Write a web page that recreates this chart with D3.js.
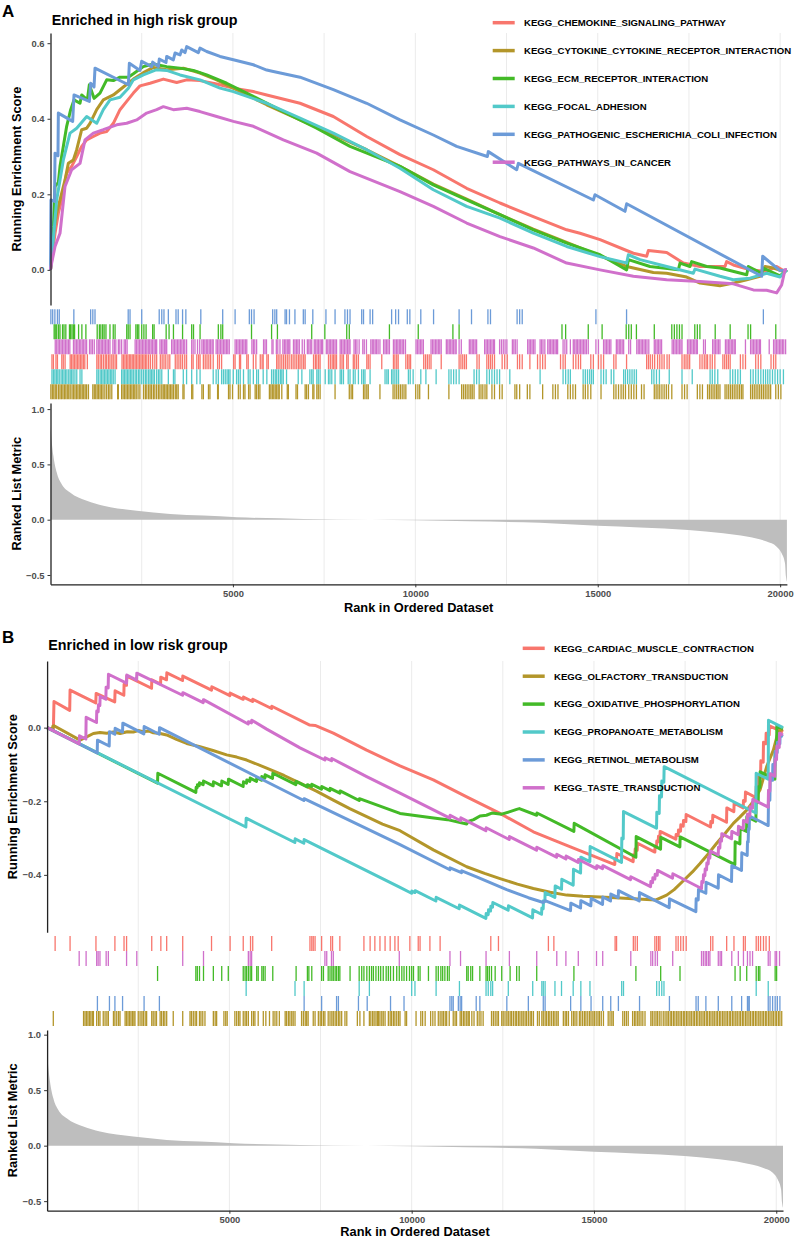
<!DOCTYPE html>
<html><head><meta charset="utf-8">
<script src="https://cdn.jsdelivr.net/npm/d3@7"></script>
<style>
body{margin:0;background:#fff}
svg{display:block}
text{font-family:"Liberation Sans",Arial,Helvetica,sans-serif}
</style>
</head><body>
<svg id="c" width="794" height="1240"></svg>
<script>
// ---------------- DATA ----------------
const N = 20185;
const gridRanks = [2500,5000,7500,10000,12500,15000,17500,20000];
const xTickValues = [5000,10000,15000,20000];
const esTicksA = [0.0,0.2,0.4,0.6];
const esTicksB = [-0.4,-0.2,0.0];
const metricTicks = [-0.5,0.0,0.5,1.0];

const titleA = "Enriched in high risk group";
const titleB = "Enriched in low risk group";

const setsA = ["KEGG_CHEMOKINE_SIGNALING_PATHWAY","KEGG_CYTOKINE_CYTOKINE_RECEPTOR_INTERACTION","KEGG_ECM_RECEPTOR_INTERACTION","KEGG_FOCAL_ADHESION","KEGG_PATHOGENIC_ESCHERICHIA_COLI_INFECTION","KEGG_PATHWAYS_IN_CANCER"];
const setsB = ["KEGG_CARDIAC_MUSCLE_CONTRACTION","KEGG_OLFACTORY_TRANSDUCTION","KEGG_OXIDATIVE_PHOSPHORYLATION","KEGG_PROPANOATE_METABOLISM","KEGG_RETINOL_METABOLISM","KEGG_TASTE_TRANSDUCTION"];
const setColors = ["#F8766D","#B3962A","#43BA27","#52C9C9","#6C9BD8","#D070CB"];
const rugOrderA = [4,2,5,0,3,1];
const rugOrderB = [0,5,2,3,4,1];

// ranked list metric (shared)
const metricRanks  = [0,15,80,171,308,537,994,1451,2365,3280,4194,5108,6937,8765,10000,11500,13417,15000,16158,17483,18442,19082,19630,19904,20041,20133,20160,20185];
const metricValues = [0.85,0.78,0.576,0.426,0.321,0.247,0.172,0.127,0.082,0.052,0.037,0.022,0.007,0.0,-0.005,-0.015,-0.027,-0.055,-0.07,-0.093,-0.123,-0.153,-0.198,-0.244,-0.304,-0.394,-0.515,-0.56];

// running enrichment scores, panel A  [rank, ES]
const esChemokine = [[0,0],[124,0.097],[215,0.150],[306,0.185],[443,0.256],[580,0.274],[718,0.300],[855,0.327],[992,0.344],[1174,0.353],[1357,0.362],[1540,0.366],[1723,0.388],[1905,0.424],[2088,0.446],[2271,0.468],[2453,0.487],[2728,0.494],[3093,0.505],[3459,0.496],[3733,0.503],[4098,0.501],[4555,0.492],[5012,0.481],[5560,0.472],[5926,0.463],[6839,0.441],[7753,0.406],[8667,0.353],[9580,0.305],[10493,0.265],[11407,0.216],[12321,0.177],[13234,0.141],[14148,0.106],[14514,0.097],[15062,0.080],[15976,0.044],[16341,0.036],[16387,0.051],[16890,0.046],[17346,0.018],[17803,0.009],[18488,0.009],[18534,0.022],[18717,0.013],[19174,0.0],[19630,-0.004],[19904,0.009],[20087,-0.002],[20185,0]];
const esCytokine = [[0,0],[78,0.097],[169,0.150],[261,0.185],[398,0.238],[489,0.282],[626,0.291],[718,0.318],[855,0.371],[992,0.375],[1083,0.388],[1266,0.424],[1448,0.450],[1723,0.463],[1997,0.484],[2271,0.505],[2545,0.522],[2819,0.536],[3185,0.530],[3641,0.534],[4098,0.521],[4555,0.503],[5012,0.481],[5926,0.437],[6839,0.397],[7753,0.358],[8667,0.318],[9580,0.274],[10493,0.227],[11407,0.187],[12321,0.146],[13234,0.108],[14148,0.073],[15062,0.037],[15793,0.009],[15976,0.005],[16524,-0.007],[16889,-0.009],[17437,-0.019],[17803,-0.035],[18351,-0.042],[18717,-0.035],[19083,-0.026],[19448,-0.017],[19585,0.009],[19813,0.005],[20087,-0.004],[20185,0]];
const esEcm = [[0,0],[78,0.115],[124,0.221],[215,0.231],[261,0.274],[352,0.327],[443,0.380],[553,0.424],[644,0.450],[809,0.441],[855,0.463],[1010,0.450],[1065,0.490],[1193,0.454],[1357,0.468],[1540,0.503],[1723,0.501],[1905,0.510],[2134,0.510],[2271,0.519],[2545,0.538],[2819,0.545],[3185,0.538],[3550,0.534],[3916,0.528],[4281,0.516],[4829,0.494],[5560,0.459],[6382,0.419],[7296,0.375],[8210,0.327],[9580,0.274],[10493,0.225],[11407,0.185],[12321,0.146],[13234,0.106],[14148,0.071],[15062,0.040],[15793,0.0],[15839,0.027],[16433,0.009],[17209,0.0],[17255,0.018],[17529,0.009],[17575,0.022],[17986,0.009],[18351,0.005],[19083,-0.013],[19128,0.009],[19494,-0.009],[19521,0.005],[19996,-0.016],[20185,0]];
const esFocal = [[0,0],[78,0.080],[169,0.185],[352,0.291],[535,0.362],[718,0.375],[992,0.406],[1266,0.388],[1448,0.424],[1631,0.450],[1905,0.457],[2134,0.481],[2271,0.503],[2545,0.516],[2910,0.530],[3185,0.528],[3550,0.516],[4098,0.503],[4646,0.481],[5012,0.472],[5926,0.441],[6839,0.402],[7753,0.362],[8667,0.318],[9580,0.269],[10493,0.212],[11407,0.168],[12321,0.137],[13234,0.097],[14148,0.062],[15062,0.035],[15793,0.018],[15839,0.040],[16159,0.027],[16890,0.009],[17620,-0.009],[17666,0.002],[18351,-0.017],[18717,-0.026],[19174,-0.022],[19630,-0.009],[19996,-0.019],[20185,0]];
const esEcoli = [[0,0],[12,0.185],[110,0.181],[124,0.309],[205,0.302],[215,0.415],[608,0.393],[644,0.463],[1065,0.446],[1101,0.494],[1193,0.484],[1220,0.534],[2134,0.490],[2161,0.547],[2453,0.528],[2499,0.552],[2773,0.538],[2801,0.550],[2956,0.538],[2983,0.558],[3166,0.549],[3185,0.565],[3367,0.556],[3413,0.574],[3550,0.569],[3596,0.582],[3687,0.575],[3733,0.591],[4052,0.575],[4098,0.587],[4281,0.578],[4646,0.565],[5012,0.556],[5560,0.543],[5926,0.529],[6108,0.525],[6839,0.510],[7753,0.477],[8667,0.441],[9580,0.397],[10493,0.357],[11133,0.327],[11974,0.300],[12001,0.313],[12778,0.265],[12824,0.282],[14880,0.185],[14925,0.199],[15747,0.155],[15793,0.175],[19494,-0.017],[19521,0.036],[19996,-0.002],[20185,0]];
const esCancer = [[0,0],[32,0.018],[124,0.062],[261,0.097],[398,0.221],[580,0.265],[809,0.282],[946,0.344],[1174,0.362],[1448,0.371],[1814,0.384],[2088,0.388],[2362,0.397],[2636,0.415],[2910,0.424],[3093,0.432],[3367,0.424],[3733,0.428],[4098,0.419],[4555,0.406],[5012,0.393],[5560,0.380],[6382,0.344],[7296,0.309],[8210,0.260],[9580,0.207],[10493,0.168],[11407,0.124],[12321,0.088],[13234,0.058],[14148,0.018],[15062,0.0],[15976,-0.017],[16890,-0.026],[17803,-0.031],[18717,-0.037],[19265,-0.053],[19630,-0.054],[19904,-0.061],[20041,-0.040],[20132,0.0],[20185,0]];

// running enrichment scores, panel B  [rank, ES]
const esCardiac = [[0,0],[171,-0.008],[189,0.071],[620,0.047],[630,0.102],[1335,0.067],[1345,0.093],[1855,0.070],[1865,0.100],[2105,0.088],[2112,0.118],[2178,0.115],[2186,0.140],[2865,0.107],[2872,0.130],[3112,0.118],[3118,0.137],[3276,0.130],[3284,0.149],[3715,0.128],[3722,0.140],[4510,0.102],[4518,0.111],[5013,0.087],[5020,0.094],[5378,0.077],[5386,0.083],[5634,0.071],[5642,0.077],[6156,0.052],[6164,0.058],[7205,0.007],[7350,0.006],[7851,-0.015],[8765,-0.061],[9680,-0.104],[10594,-0.142],[11509,-0.188],[12423,-0.233],[13337,-0.283],[14252,-0.320],[15570,-0.372],[15578,-0.356],[15620,-0.358],[15628,-0.342],[16075,-0.364],[16082,-0.345],[16122,-0.347],[16130,-0.330],[16186,-0.333],[16194,-0.314],[16670,-0.338],[16678,-0.322],[16716,-0.324],[16724,-0.308],[16762,-0.310],[16770,-0.295],[16808,-0.297],[16816,-0.282],[17246,-0.303],[17254,-0.290],[17310,-0.293],[17318,-0.278],[17374,-0.281],[17382,-0.264],[17448,-0.268],[17456,-0.252],[17521,-0.255],[17529,-0.236],[18197,-0.270],[18205,-0.255],[18252,-0.258],[18260,-0.238],[18636,-0.257],[18644,-0.218],[18837,-0.228],[18845,-0.205],[19093,-0.218],[19101,-0.198],[19148,-0.200],[19156,-0.175],[19441,-0.190],[19449,-0.160],[19505,-0.163],[19513,-0.133],[19569,-0.136],[19577,-0.090],[19642,-0.094],[19650,-0.040],[19715,-0.044],[19723,-0.015],[19806,-0.020],[19814,0.005],[20185,-0.012]];
const esOlfactory = [[0,0],[150,-0.004],[158,0.004],[190,0.005],[902,-0.034],[1085,-0.025],[1268,-0.016],[1450,-0.013],[1634,-0.015],[1817,-0.012],[2000,-0.016],[2200,-0.011],[2365,-0.012],[2500,-0.008],[2640,-0.011],[2780,-0.009],[2914,-0.014],[3100,-0.016],[3280,-0.020],[3550,-0.032],[3829,-0.043],[4194,-0.052],[4550,-0.062],[4925,-0.074],[5200,-0.080],[5474,-0.088],[6022,-0.110],[6500,-0.130],[6937,-0.151],[7400,-0.173],[7851,-0.197],[8300,-0.220],[8765,-0.242],[9200,-0.262],[9680,-0.280],[10594,-0.332],[11509,-0.378],[12000,-0.396],[12423,-0.410],[12900,-0.425],[13337,-0.437],[13800,-0.447],[14252,-0.455],[14700,-0.458],[15166,-0.460],[15600,-0.462],[16080,-0.465],[16700,-0.468],[16994,-0.455],[17200,-0.440],[17451,-0.416],[17700,-0.392],[17909,-0.369],[18150,-0.341],[18366,-0.314],[18600,-0.287],[18823,-0.260],[19000,-0.243],[19189,-0.224],[19400,-0.196],[19555,-0.169],[19737,-0.106],[19920,-0.061],[20057,-0.010],[20185,-0.004]];
const esOxidative = [[0,0],[3029,-0.151],[3037,-0.124],[4080,-0.176],[4088,-0.162],[4116,-0.163],[4124,-0.155],[4171,-0.158],[4179,-0.150],[4281,-0.155],[4289,-0.145],[4555,-0.158],[4563,-0.147],[4784,-0.158],[4792,-0.145],[4967,-0.154],[4975,-0.140],[5378,-0.160],[5386,-0.147],[5470,-0.151],[5478,-0.142],[5561,-0.146],[5569,-0.137],[5744,-0.146],[5752,-0.136],[5881,-0.143],[5889,-0.133],[5973,-0.137],[5981,-0.128],[6183,-0.138],[6191,-0.124],[6823,-0.155],[6831,-0.146],[7134,-0.161],[7142,-0.155],[7253,-0.160],[7261,-0.154],[7527,-0.167],[7535,-0.160],[7756,-0.171],[7764,-0.165],[8030,-0.178],[8038,-0.172],[8560,-0.198],[8568,-0.193],[9680,-0.233],[10550,-0.245],[10980,-0.250],[11509,-0.262],[11550,-0.255],[11700,-0.250],[11874,-0.240],[12050,-0.238],[12200,-0.232],[12469,-0.235],[12697,-0.228],[12880,-0.222],[12953,-0.220],[13429,-0.238],[13437,-0.232],[14449,-0.282],[14457,-0.260],[16150,-0.352],[16158,-0.296],[16826,-0.330],[16834,-0.298],[17356,-0.324],[17364,-0.297],[18865,-0.372],[18873,-0.310],[19002,-0.316],[19010,-0.274],[19185,-0.282],[19193,-0.242],[19441,-0.254],[19449,-0.200],[19505,-0.203],[19513,-0.160],[19550,-0.162],[19558,-0.120],[19962,-0.140],[19970,-0.070],[20008,-0.072],[20016,0.005],[20185,-0.003]];
const esPropanoate = [[0,0],[5452,-0.270],[5460,-0.246],[6796,-0.312],[6804,-0.302],[7042,-0.314],[7050,-0.304],[9680,-0.434],[9996,-0.450],[10004,-0.444],[10087,-0.448],[10095,-0.443],[10663,-0.471],[10671,-0.461],[11303,-0.492],[11311,-0.482],[12035,-0.518],[12043,-0.505],[12099,-0.508],[12107,-0.495],[12163,-0.498],[12171,-0.485],[12218,-0.488],[12226,-0.475],[12647,-0.496],[12655,-0.484],[13315,-0.517],[13323,-0.495],[13562,-0.507],[13570,-0.490],[13607,-0.492],[13615,-0.470],[13653,-0.472],[13661,-0.448],[13928,-0.461],[13936,-0.430],[14110,-0.439],[14118,-0.412],[14430,-0.428],[14438,-0.385],[14632,-0.395],[14640,-0.352],[14887,-0.364],[14895,-0.323],[15756,-0.366],[15764,-0.300],[15802,-0.302],[15810,-0.228],[16716,-0.273],[16724,-0.230],[16789,-0.233],[16797,-0.185],[16853,-0.188],[16861,-0.145],[16917,-0.148],[16925,-0.106],[19441,-0.232],[19449,-0.124],[19779,-0.140],[19787,0.020],[20185,0.0]];
const esRetinol = [[0,0],[1374,-0.069],[1382,-0.034],[1703,-0.050],[1711,-0.011],[1858,-0.018],[1866,-0.002],[2069,-0.012],[2077,0.012],[2654,-0.017],[2662,0.003],[3075,-0.018],[3083,0.000],[7042,-0.198],[7050,-0.193],[9680,-0.318],[11047,-0.386],[11055,-0.381],[11367,-0.394],[11375,-0.389],[11765,-0.405],[12606,-0.440],[13200,-0.462],[13611,-0.475],[13657,-0.470],[14357,-0.497],[14365,-0.477],[14632,-0.490],[14640,-0.470],[14915,-0.484],[14923,-0.464],[15235,-0.480],[15243,-0.460],[15454,-0.471],[15462,-0.452],[15665,-0.462],[15673,-0.443],[16241,-0.471],[16249,-0.448],[17064,-0.489],[17072,-0.465],[17795,-0.500],[17803,-0.465],[17859,-0.468],[17867,-0.440],[18069,-0.450],[18077,-0.420],[18408,-0.436],[18416,-0.400],[18773,-0.418],[18781,-0.375],[19047,-0.388],[19055,-0.340],[19203,-0.347],[19211,-0.310],[19230,-0.311],[19238,-0.275],[19258,-0.276],[19266,-0.240],[19779,-0.266],[19787,-0.195],[19825,-0.197],[19833,-0.140],[19898,-0.143],[19906,-0.100],[19962,-0.103],[19970,-0.065],[20026,-0.068],[20034,-0.040],[20099,-0.044],[20107,-0.020],[20185,-0.024]];
const esTaste = [[0,0],[880,-0.044],[888,-0.022],[1063,-0.031],[1071,0.028],[1355,0.014],[1362,0.045],[1401,0.043],[1409,0.062],[1447,0.060],[1455,0.085],[1611,0.077],[1619,0.110],[1675,0.108],[1683,0.145],[2178,0.121],[2186,0.143],[2453,0.129],[2461,0.148],[3715,0.088],[3723,0.095],[4281,0.068],[4289,0.076],[5515,0.010],[5523,0.016],[5607,0.013],[5615,0.020],[6022,-0.004],[6937,-0.055],[7618,-0.088],[7626,-0.082],[7801,-0.090],[7809,-0.084],[7851,-0.086],[8765,-0.133],[9680,-0.178],[11047,-0.246],[11055,-0.238],[11340,-0.253],[11348,-0.245],[12035,-0.280],[12043,-0.272],[12675,-0.304],[12683,-0.296],[13425,-0.333],[13433,-0.325],[13973,-0.352],[13981,-0.344],[14229,-0.357],[14237,-0.349],[14567,-0.366],[14575,-0.358],[15070,-0.383],[15078,-0.375],[15235,-0.383],[15243,-0.375],[16003,-0.413],[16011,-0.405],[16552,-0.432],[16560,-0.418],[16607,-0.421],[16615,-0.408],[16671,-0.411],[16679,-0.398],[16735,-0.401],[16743,-0.388],[17155,-0.409],[17163,-0.397],[17950,-0.437],[17958,-0.418],[17996,-0.420],[18004,-0.400],[18042,-0.402],[18050,-0.384],[18088,-0.386],[18096,-0.368],[18133,-0.370],[18141,-0.352],[18179,-0.354],[18187,-0.335],[18408,-0.346],[18416,-0.325],[18453,-0.327],[18461,-0.306],[18499,-0.308],[18507,-0.288],[18773,-0.302],[18781,-0.282],[18956,-0.291],[18964,-0.268],[19093,-0.275],[19101,-0.252],[19203,-0.257],[19211,-0.235],[19276,-0.239],[19284,-0.215],[19349,-0.219],[19357,-0.195],[19779,-0.216],[19787,-0.170],[19825,-0.172],[19833,-0.125],[19962,-0.132],[19970,-0.085],[20008,-0.087],[20016,-0.050],[20081,-0.054],[20089,-0.015],[20185,-0.020]];

// gene-set hit positions (ranks), panel A
const hitsChemokine = [40,80,150,190,310,350,400,540,580,620,660,700,740,780,820,860,900,940,1010,1270,1310,1360,1400,1450,1500,1540,1590,1630,1680,1720,1770,1810,1960,2000,2040,2080,2120,2160,2200,2240,2280,2320,2360,2400,2440,2480,2520,2560,2600,2640,2690,2740,2800,2860,2910,3010,3060,3110,3160,3220,3270,3420,3470,3520,3570,3620,3680,3730,3870,3910,4010,4060,4100,4190,4240,4290,4340,4390,4460,4580,4630,4690,5020,5060,5180,5210,5380,5420,5560,5630,5750,5800,5830,5930,5970,6200,6240,6290,6340,6390,6440,6490,6540,6600,6650,6700,6750,6800,6840,6890,6940,6980,7210,7260,7300,7350,7390,7620,7670,7720,7760,7800,7840,7940,7990,8030,8120,8160,8300,8340,8390,8440,8670,8710,8760,9080,9400,9440,9490,9530,9740,9790,9830,9870,10230,10280,10330,10380,10430,10710,11200,11250,11300,11350,11400,11690,11750,11960,12010,12060,12110,12170,12380,12450,12520,12800,12860,12930,13140,13350,13420,13490,13560,13980,14050,14110,14330,14400,14470,14530,14810,14880,15020,15090,15160,15440,15500,15790,16340,16390,16440,16500,16560,16640,16700,16760,16820,16900,16960,17310,17370,17420,17470,17520,17800,17860,17920,17970,18010,18080,18140,18210,18430,18480,18530,18580,18630,18910,18980,19050,19330,19400,19470,19750,19820,19880];
const hitsCytokine = [10,50,90,130,170,220,260,300,340,380,420,460,500,540,590,630,670,710,750,790,830,870,910,950,990,1040,1160,1200,1240,1280,1320,1360,1400,1440,1490,1540,1590,1630,1680,1840,1860,1950,1990,2030,2070,2110,2150,2190,2230,2270,2310,2350,2400,2450,2550,2600,2640,2690,2730,2770,2820,2860,2910,2960,3000,3050,3090,3130,3170,3210,3250,3290,3330,3370,3420,3460,3500,3630,3660,3870,3900,4150,4190,4330,4370,4580,4600,4880,4920,4990,5150,5200,5290,5330,5430,5470,5610,5650,5700,5740,6000,6040,6080,6120,6160,6200,6240,6270,6340,6490,6520,6730,6770,6980,7020,7070,7190,7220,7300,7340,7390,7800,8190,8240,8280,8580,8620,8670,8710,9030,9390,9440,9490,9540,9590,9640,9690,9740,10010,10070,10120,10360,10920,11270,11320,11370,11420,11470,11520,11560,11610,11750,11800,11850,11910,11960,12100,12170,12310,12380,12730,12780,12860,13070,13140,13490,13770,13840,13910,14180,14250,14320,14390,14600,14660,14730,14810,15090,15440,15500,15570,15640,15700,15760,15850,15920,15990,16060,16200,16270,16550,16600,16650,16700,16760,16820,16880,16940,17030,17310,17380,17450,17730,17800,17870,18010,18060,18110,18160,18210,18260,18300,18350,18490,18540,18590,18640,18690,18740,18790,18840,18890,18940,18980,19190,19240,19290,19340,19390,19440,19490,19540,19590,19640,19690,19740,19880,19950,20020];
const hitsEcm = [100,130,170,220,260,330,370,420,520,550,590,630,660,770,860,970,1280,1340,1380,1430,1470,1520,1630,1720,1770,2090,2130,2180,2340,2380,2420,2500,2560,2620,2800,2840,3170,3250,3370,3620,3870,3920,4100,4600,4670,4720,5510,6060,6220,7160,7520,8120,8190,9290,10080,11030,11200,14020,14120,14740,15120,15780,15850,15920,16060,16550,17030,17100,17170,17240,17310,17660,17730,17800,18220,18630,19120,19190,19880];
const hitsFocal = [40,80,120,160,200,240,290,330,370,410,450,500,540,580,620,670,720,810,860,1270,1310,1360,1400,1440,1480,1520,1560,1600,1640,1680,1720,1770,1950,1990,2030,2070,2110,2150,2190,2230,2270,2320,2360,2410,2450,2500,2550,2600,2640,2690,2730,2770,2810,2850,2910,2960,3000,3050,3230,3370,3410,3640,3730,3870,4010,4100,4460,4540,4600,4690,4740,4790,4840,4880,4920,5010,5100,5150,5200,5290,5420,5470,5560,5650,5700,5830,5930,6060,6110,6160,6200,6250,6300,6340,6380,6470,6790,6890,7110,7160,7200,7300,7340,7390,7530,7620,7660,7710,7800,7940,7980,8030,8160,8210,8300,8350,8440,8530,8580,8620,8760,9170,9220,9260,9350,9390,9440,9490,9540,9810,9860,9940,10150,10290,10570,10920,10980,11050,11120,11200,11610,11680,11750,11960,12030,12100,12170,12240,12310,12590,13420,14050,14120,14190,14250,14600,14660,14720,14780,14830,14880,15090,15160,15230,15370,15440,15710,15760,15820,15880,15940,16000,16060,16480,16540,16610,16690,16960,17310,17590,18080,18140,18210,18290,18630,18700,18770,18840,18910,19190,19260,19330,19400,19470,19540,19600,19660,19720,19790,19860,19930,20000,20090];
const hitsEcoli = [10,60,120,190,240,640,1100,1160,1220,2130,2180,2500,2980,3050,3110,3230,3440,3500,3620,3710,4120,4720,5060,5450,5510,5580,6090,6150,6200,6430,6470,6550,6700,6930,6980,7190,7550,7800,8070,8140,8210,8530,8580,8760,8830,9350,9460,9540,9780,9850,10150,10500,11200,11540,11990,12060,12790,12860,12930,14950,15790,19540];
const hitsCancer = [130,170,210,250,290,330,370,410,450,490,530,630,670,710,750,790,830,870,910,950,990,1070,1110,1150,1200,1270,1310,1350,1390,1430,1470,1510,1550,1590,1630,1710,1750,1790,1860,1900,1950,2020,2060,2100,2320,2360,2400,2440,2480,2520,2560,2600,2640,2680,2720,2760,2800,2840,2880,2910,3000,3040,3080,3120,3160,3185,3320,3360,3400,3440,3480,3520,3560,3600,3640,3680,3730,3870,3910,3960,4030,4090,4150,4190,4230,4270,4310,4350,4390,4430,4460,4540,4580,4620,4660,4700,4740,4780,4820,4860,4900,5060,5100,5140,5180,5220,5260,5300,5340,5380,5520,5560,5600,5650,5840,5880,5920,6070,6100,6190,6230,6290,6370,6410,6450,6490,6530,6560,6660,6700,6740,6780,6820,6900,6960,7040,7080,7120,7160,7230,7270,7310,7350,7390,7430,7460,7560,7600,7640,7680,7720,7760,7800,7840,7940,7980,8020,8060,8100,8140,8180,8210,8320,8360,8400,8460,8560,8600,8660,8780,8820,8860,8900,8940,8980,9030,9130,9170,9210,9250,9290,9400,9440,9480,9520,9560,9600,9640,9680,9730,10020,10060,10100,10140,10180,10220,10430,10470,10510,10550,10590,10630,10670,10710,10850,10890,10930,10970,11010,11050,11090,11120,11200,11260,11480,11520,11560,11600,11640,11680,11900,11940,11980,12020,12060,12100,12140,12170,12310,12360,12410,12460,12510,12660,12700,12740,12790,13080,13120,13160,13200,13240,13280,13420,13460,13500,13550,13630,13670,13710,13750,13790,13830,13870,13900,14050,14100,14150,14250,14330,14370,14410,14450,14490,14530,14570,14610,14650,14690,14740,14950,15020,15160,15200,15240,15280,15320,15360,15510,15550,15590,15630,15670,15710,15850,15900,16070,16110,16150,16190,16230,16270,16310,16350,16400,16550,16590,16630,16670,16710,16750,17040,17080,17120,17160,17200,17240,17280,17310,17460,17500,17540,17580,17620,17660,17700,17730,17900,17950,18150,18190,18230,18270,18310,18350,18500,18540,18580,18620,18660,18700,18740,18770,19049,19190,19230,19270,19310,19350,19390,19430,19460,19700,19820,19860,19900,19940,19980,20020,20060,20100,20150];

// gene-set hit positions (ranks), panel B
const hitsCardiac = [220,630,1340,1860,2110,2180,2870,3120,3280,3720,4510,5020,5380,5580,5640,6160,7210,7260,7300,7350,7530,7780,7830,8030,8690,8860,8990,9130,9270,9410,9540,9630,9950,10180,10230,10500,10780,12170,12380,13750,13900,15580,15620,16080,16130,16190,16670,16720,16770,16810,17250,17310,17380,17450,17530,18200,18260,18640,18840,19100,19150,19450,19510,19570,19650,19720,19810];
const hitsOlfactory = [170,1000,1040,1080,1120,1160,1200,1240,1270,1360,1410,1450,1540,1590,1640,1680,1820,1860,1910,1960,2000,2140,2180,2220,2260,2300,2340,2380,2410,2500,2550,2600,2640,2690,2730,2870,2910,2960,3000,3100,3140,3190,3230,3280,3460,3720,3920,3960,4010,4060,4100,4180,4220,4270,4330,4560,4610,4650,4850,4900,4940,5150,5200,5250,5290,5380,5430,5470,5520,5610,5660,5700,5790,5930,6000,6100,6200,6250,6300,6370,6530,6570,6620,6660,6710,6750,6800,6980,7030,7080,7120,7160,7300,7350,7440,7490,7530,7580,7620,7710,7760,7810,7850,7900,7940,7990,8030,8080,8170,8220,8510,8580,8690,8840,8880,8930,8970,9020,9060,9090,9130,9180,9220,9270,9360,9410,9450,9500,9540,9590,9640,9680,9820,9860,10120,10250,10300,10370,10520,10580,10640,10730,10780,10830,10870,10920,10960,11030,11140,11190,11230,11330,11370,11420,11460,11510,11550,11580,11650,11710,11800,11850,11900,11960,12190,12240,12290,12340,12380,12470,12510,12560,12610,12650,12700,12740,12790,12840,12880,12930,12970,13020,13060,13110,13150,13200,13250,13290,13340,13450,13500,13570,13610,13660,13700,13750,13790,13840,13890,13930,13980,14020,14160,14210,14250,14300,14390,14440,14480,14530,14600,14640,14690,14740,14780,14830,14880,14920,14970,15010,15060,15110,15150,15200,15260,15390,15440,15490,15530,15790,15840,15890,15940,16060,16110,16150,16200,16240,16290,16340,16400,16560,16600,16650,16700,16740,16790,16840,16900,16950,17000,17040,17090,17130,17180,17220,17270,17310,17360,17400,17450,17490,17540,17580,17630,17670,17720,17760,17810,17850,17900,17940,17990,18030,18080,18120,18170,18210,18260,18300,18350,18390,18440,18480,18530,18570,18620,18660,18710,18750,18800,18840,18890,18930,18980,19020,19070,19110,19160,19200,19250,19290,19340,19380,19430,19470,19520,19560,19610,19650,19700,19740,19790,19830,19880,19920,19970,20010,20060,20100,20150];
const hitsOxidative = [3030,4080,4120,4180,4290,4560,4790,4970,5380,5430,5470,5520,5570,5610,5750,5790,5890,5930,5980,6190,6830,7140,7180,7260,7530,7580,7710,7760,7810,7850,7900,7940,7990,8030,8310,8560,8630,8690,8770,8840,8900,8950,9020,9090,9150,9220,9300,9360,9420,9500,9590,9660,9730,9790,9860,9940,10000,10050,10180,10230,10460,10670,10730,10800,10850,10910,10980,11030,11510,11550,11620,11670,11870,12040,12080,12130,12190,12290,12470,12700,12880,12950,13430,14450,16150,16830,17360,18870,19010,19190,19450,19510,19550,19970,20010];
const hitsPropanoate = [5460,6800,7050,8560,8840,10000,10090,10670,11310,12040,12100,12170,12220,12650,13320,13570,13610,13660,13930,14110,14430,14640,14890,15760,15810,16720,16790,16860,16920,19450,19780];
const hitsRetinol = [1380,1710,1860,2070,2660,3080,7050,7530,7940,7990,8540,8780,9420,9790,11050,11100,11140,11280,11330,11370,11770,11870,12610,13200,13610,13660,14360,14640,14920,15240,15460,15670,16250,17070,17800,17860,18070,18410,18780,19050,19210,19230,19260,19780,19830,19900,19970,20030,20100];
const hitsTaste = [880,1070,1360,1400,1450,1620,1680,2180,2460,3720,4290,5520,5570,5610,7620,7670,7800,7850,9660,11050,11340,12040,12680,13430,13980,14230,14570,15070,15240,16010,16560,16610,16680,16740,17160,17950,18000,18050,18090,18140,18180,18410,18460,18500,18780,18960,19100,19210,19280,19350,19780,19830,19970,20010,20090];

// ---------------- LAYOUT ----------------
const layoutA = {
  letter:"A", letterY:16.7, title:titleA, titleX:51.7, titleY:25,
  x0:50.5, x1:786.9,
  esTop:33, esBottom:305, esDomain:[-0.093,0.627], esTicks:esTicksA,
  rugTop:309.3, rugH:15,
  mTop:403, mBottom:584.3, mDomain:[-0.584,1.055],
  yTitleX:20.5, xTitleY:612,
  legendLineX:492.7, legendTextX:524, legendY0:22.7, legendStep:27.9,
  sets:setsA, es:[esChemokine,esCytokine,esEcm,esFocal,esEcoli,esCancer],
  hits:[hitsChemokine,hitsCytokine,hitsEcm,hitsFocal,hitsEcoli,hitsCancer],
  rugOrder:rugOrderA
};
const layoutB = {
  letter:"B", letterY:643, title:titleB, titleX:48.3, titleY:650,
  x0:47.1, x1:783.0,
  esTop:661, esBottom:932.3, esDomain:[-0.556,0.181], esTicks:esTicksB,
  rugTop:936, rugH:15,
  mTop:1030, mBottom:1210.7, mDomain:[-0.586,1.042],
  yTitleX:16.5, xTitleY:1236,
  legendLineX:522.7, legendTextX:554, legendY0:648.3, legendStep:27.9,
  sets:setsB, es:[esCardiac,esOlfactory,esOxidative,esPropanoate,esRetinol,esTaste],
  hits:[hitsCardiac,hitsOlfactory,hitsOxidative,hitsPropanoate,hitsRetinol,hitsTaste],
  rugOrder:rugOrderB
};

// ---------------- DRAW ----------------
const svg = d3.select("#c");
svg.append("rect").attr("width",794).attr("height",1240).attr("fill","#fff");

function drawPanel(o){
  const g = svg.append("g");
  const x = d3.scaleLinear().domain([0,N]).range([o.x0,o.x1]);
  const yES = d3.scaleLinear().domain(o.esDomain).range([o.esBottom,o.esTop]);
  const yM = d3.scaleLinear().domain(o.mDomain).range([o.mBottom,o.mTop]);

  g.append("g").selectAll("line").data(gridRanks).join("line")
    .attr("x1",d=>x(d)).attr("x2",d=>x(d))
    .attr("y1",o.esTop).attr("y2",o.mBottom)
    .attr("stroke","#EBEBEB").attr("stroke-width",1);

  const metric = metricRanks.map((r,i)=>[r,metricValues[i]]);
  const area = d3.area().x(d=>x(d[0])).y0(yM(0)).y1(d=>yM(d[1])).curve(d3.curveMonotoneX);
  g.append("path").datum(metric).attr("d",area).attr("fill","#BEBEBE");

  o.rugOrder.forEach((si,row)=>{
    const yt = o.rugTop + row*o.rugH;
    g.append("g").selectAll("line").data(o.hits[si]).join("line")
      .attr("x1",d=>x(d)).attr("x2",d=>x(d))
      .attr("y1",yt).attr("y2",yt+o.rugH)
      .attr("stroke",setColors[si]).attr("stroke-width",1.3);
  });

  const line = d3.line().x(d=>x(d[0])).y(d=>yES(d[1]));
  o.es.forEach((arr,i)=>{
    g.append("path").datum(arr).attr("d",line)
      .attr("fill","none").attr("stroke",setColors[i])
      .attr("stroke-width",3).attr("stroke-linejoin","round");
  });

  const fmt = d3.format(".1f");
  const axES = g.append("g").attr("transform",`translate(${o.x0},0)`)
    .call(d3.axisLeft(yES).tickValues(o.esTicks).tickFormat(fmt).tickSize(3).tickSizeOuter(0));
  const axM = g.append("g").attr("transform",`translate(${o.x0},0)`)
    .call(d3.axisLeft(yM).tickValues(metricTicks).tickFormat(fmt).tickSize(3).tickSizeOuter(0));
  const axX = g.append("g").attr("transform",`translate(0,${o.mBottom})`)
    .call(d3.axisBottom(x).tickValues(xTickValues).tickFormat(d3.format("d")).tickSize(3).tickSizeOuter(0));
  [axES,axM,axX].forEach(a=>{
    a.select(".domain").attr("stroke","#222").attr("stroke-width",1.3);
    a.selectAll(".tick line").attr("stroke","#333").attr("stroke-width",1);
    a.selectAll(".tick text").attr("fill","#4D4D4D").attr("font-size",9.4).attr("font-weight","bold")
      .attr("font-family",'"Liberation Sans",Arial,sans-serif');
  });

  g.append("text").attr("transform",`translate(${o.yTitleX},${(o.esTop+o.esBottom)/2}) rotate(-90)`)
    .attr("text-anchor","middle").attr("font-size",12.8).attr("font-weight","bold").attr("fill","#000")
    .text("Running Enrichment Score");
  g.append("text").attr("transform",`translate(${o.yTitleX},${(o.mTop+o.mBottom)/2}) rotate(-90)`)
    .attr("text-anchor","middle").attr("font-size",12.8).attr("font-weight","bold").attr("fill","#000")
    .text("Ranked List Metric");
  g.append("text").attr("x",(o.x0+o.x1)/2).attr("y",o.xTitleY)
    .attr("text-anchor","middle").attr("font-size",12.8).attr("font-weight","bold").attr("fill","#000")
    .text("Rank in Ordered Dataset");

  g.append("text").attr("x",o.titleX).attr("y",o.titleY)
    .attr("font-size",14.3).attr("font-weight","bold").attr("fill","#000").text(o.title);
  g.append("text").attr("x",2).attr("y",o.letterY)
    .attr("font-size",17).attr("font-weight","bold").attr("fill","#000").text(o.letter);

  const lg = g.append("g");
  o.sets.forEach((name,i)=>{
    const yy = o.legendY0 + i*o.legendStep;
    lg.append("line").attr("x1",o.legendLineX).attr("x2",o.legendLineX+22)
      .attr("y1",yy).attr("y2",yy).attr("stroke",setColors[i]).attr("stroke-width",3.5);
    lg.append("text").attr("x",o.legendTextX).attr("y",yy).attr("dy","0.35em")
      .attr("font-size",9.6).attr("font-weight","bold").attr("fill","#000").text(name);
  });
}

drawPanel(layoutA);
drawPanel(layoutB);
</script>
</body></html>
